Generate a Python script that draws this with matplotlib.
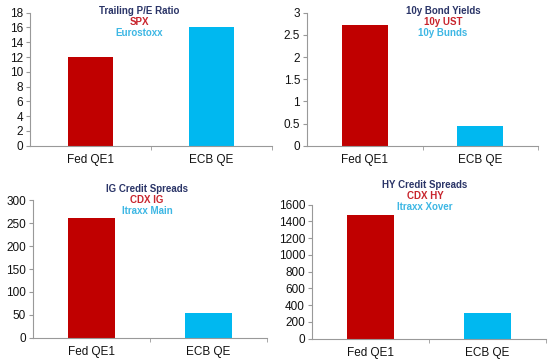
import matplotlib
matplotlib.use("Agg")
import matplotlib.pyplot as plt
from matplotlib.ticker import FixedLocator

plt.rcParams['font.family'] = ['Liberation Sans', 'DejaVu Sans']

categories = ["Fed QE1", "ECB QE"]

pe_values = [12, 16]
yield_values = [2.73, 0.45]
ig_values = [261, 55]
hy_values = [1475, 305]

pe_ticks = [0, 2, 4, 6, 8, 10, 12, 14, 16, 18]
yield_ticks = [0, 0.5, 1, 1.5, 2, 2.5, 3]
yield_labels = ["0", "0.5", "1", "1.5", "2", "2.5", "3"]
ig_ticks = [0, 50, 100, 150, 200, 250, 300]
hy_ticks = [0, 200, 400, 600, 800, 1000, 1200, 1400, 1600]

pe_titles = ["Trailing P/E Ratio", "SPX", "Eurostoxx"]
yield_titles = ["10y Bond Yields", "10y UST", "10y Bunds"]
ig_titles = ["IG Credit Spreads", "CDX IG", "Itraxx Main"]
hy_titles = ["HY Credit Spreads", "CDX HY", "Itraxx Xover"]

RED = "#C00000"
CYAN = "#00B8F0"
NAVY = "#2B3568"
TITLE_COLORS = [NAVY, "#C8242C", "#3DB7E4"]

W, H = 550, 364
fig = plt.figure(figsize=(W / 100, H / 100), dpi=100)
fig.patch.set_facecolor("white")


def panel(left, right, top, bottom, values, ticks, labels, titles, title_x, title_ys, width):
    ax = fig.add_axes([left / W, 1 - bottom / H, (right - left) / W, (bottom - top) / H])
    ax.bar([0, 1], values, width=width, color=[RED, CYAN], zorder=2)
    ax.set_xlim(-0.5, 1.5)
    ax.set_ylim(ticks[0], ticks[-1])
    ax.set_yticks(ticks)
    ax.set_yticklabels(labels if labels else [str(t) for t in ticks])
    ax.set_xticks([0, 1])
    ax.set_xticklabels(categories, fontsize=8.5, color="#111111")
    ax.xaxis.set_minor_locator(FixedLocator([0.5, 1.5]))
    ax.tick_params(axis="x", which="major", length=0, pad=6)
    ax.tick_params(axis="x", which="minor", length=3, color="#999999", direction="out")
    ax.tick_params(axis="y", length=3, color="#999999", labelsize=8.5,
                   labelcolor="#111111", pad=2)
    for s in ["top", "right"]:
        ax.spines[s].set_visible(False)
    for s in ["left", "bottom"]:
        ax.spines[s].set_color("#999999")
        ax.spines[s].set_linewidth(0.8)
    for t, c, y in zip(titles, TITLE_COLORS, title_ys):
        fig.text(title_x / W, 1 - y / H, t, color=c, fontsize=7, fontweight="bold",
                 ha="center", va="center")
    return ax


panel(30, 272, 12.7, 145.7, pe_values, pe_ticks, None, pe_titles,
      139, [11, 21.7, 33.3], 0.38)
panel(307, 538, 12.7, 145.7, yield_values, yield_ticks, yield_labels, yield_titles,
      443, [10.7, 21.7, 32.7], 0.40)
panel(33, 267, 200.3, 337.7, ig_values, ig_ticks, None, ig_titles,
      147, [189, 200, 211], 0.40)
panel(312, 546, 204.7, 338.7, hy_values, hy_ticks, None, hy_titles,
      425, [185.3, 196.3, 207], 0.40)

fig.savefig("out.png", dpi=100, facecolor="white")
